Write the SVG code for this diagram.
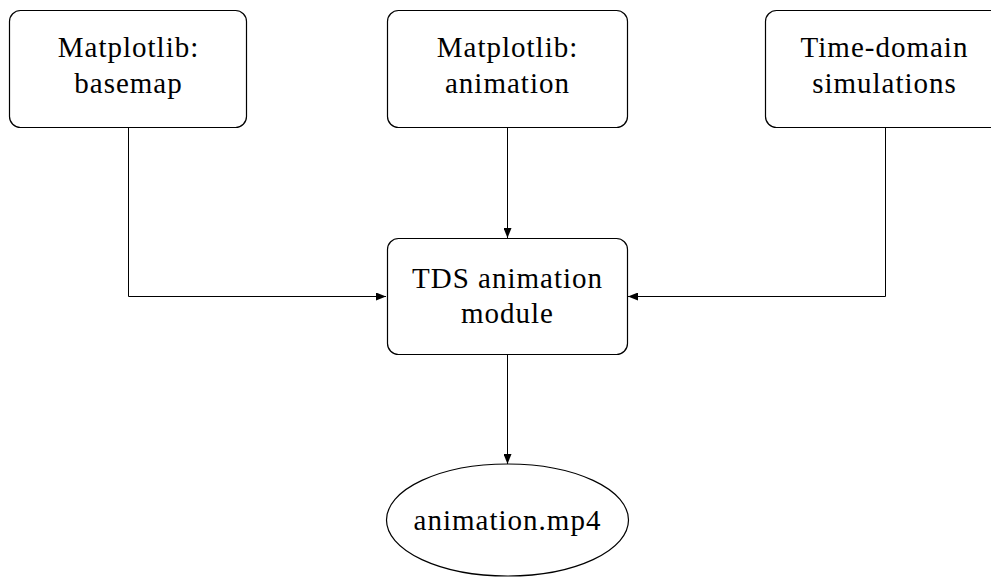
<svg xmlns="http://www.w3.org/2000/svg" width="991" height="578" viewBox="0 0 991 578">
<style>
.box{fill:#fff;stroke:#000;stroke-width:1.2}
.t{font-family:'Liberation Serif','DejaVu Serif',serif;font-size:29px;letter-spacing:1px;fill:#000;text-anchor:middle}
.c{fill:none;stroke:#000;stroke-width:1}
</style>
<defs>
<marker id="ah" markerWidth="10" markerHeight="8" refX="10" refY="4" orient="auto" markerUnits="userSpaceOnUse">
<path d="M0,0 L10,4 L0,8 Z" fill="#000"/>
</marker>
</defs>
<rect width="991" height="578" fill="#fff"/>
<g id="connectors">
<path class="c" d="M128.5,128 V296.5 H386" marker-end="url(#ah)"/>
<path class="c" d="M507.5,128 V238" marker-end="url(#ah)"/>
<path class="c" d="M885.5,128 V296.5 H628" marker-end="url(#ah)"/>
<path class="c" d="M507.5,354 V464" marker-end="url(#ah)"/>
</g>
<g id="basemap">
<rect class="box" x="9.5" y="10.5" width="237" height="117" rx="11"/>
<text class="t" x="128.5" y="57">Matplotlib:</text>
<text class="t" x="128.5" y="93">basemap</text>
</g>
<g id="animation">
<rect class="box" x="387.5" y="10.5" width="240" height="117" rx="11"/>
<text class="t" x="507.5" y="57">Matplotlib:</text>
<text class="t" x="507.5" y="93">animation</text>
</g>
<g id="tds">
<rect class="box" x="765.5" y="10.5" width="240" height="117" rx="11"/>
<text class="t" x="884.5" y="57">Time-domain</text>
<text class="t" x="884.5" y="93">simulations</text>
</g>
<g id="module">
<rect class="box" x="387.5" y="238.5" width="240" height="116" rx="11"/>
<text class="t" x="507.5" y="288">TDS animation</text>
<text class="t" x="507.5" y="323">module</text>
</g>
<g id="mp4">
<ellipse class="box" cx="507.5" cy="520" rx="121" ry="56"/>
<text class="t" x="507.5" y="530">animation.mp4</text>
</g>
</svg>
